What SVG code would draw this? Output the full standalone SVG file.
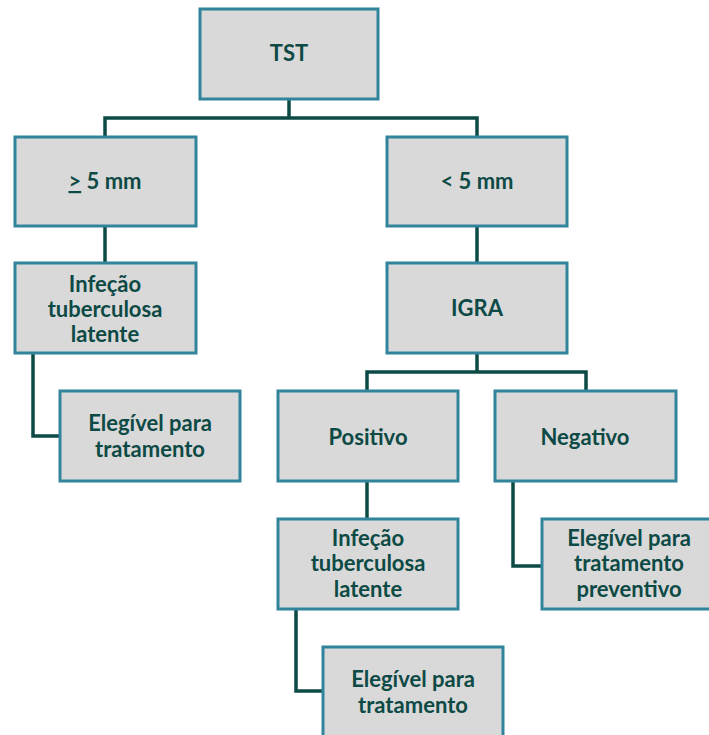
<svg xmlns="http://www.w3.org/2000/svg" width="709" height="735" viewBox="0 0 709 735">
<style>
.box{fill:#d9d9d9;stroke:#31849b;stroke-width:3}
.t{font-family:Lato,"Liberation Sans",sans-serif;font-weight:bold;font-size:22px;fill:#0d4a45;text-anchor:middle}
.c{fill:none;stroke:#0c4a45;stroke-width:3.5}
</style>
<rect width="709" height="735" fill="#ffffff"/>
<g id="connectors">
<polyline class="c" points="289,99 289,118"/>
<polyline class="c" points="105,136 105,118 477,118 477,136"/>
<polyline class="c" points="105,226 105,262"/>
<polyline class="c" points="477,226 477,262"/>
<polyline class="c" points="33,353 33,436 59,436"/>
<polyline class="c" points="477,353 477,372"/>
<polyline class="c" points="367,390 367,372 586,372 586,390"/>
<polyline class="c" points="367,481 367,518"/>
<polyline class="c" points="513,481 513,566 541,566"/>
<polyline class="c" points="296,609 296,691 322,691"/>
</g>
<g id="tst"><rect class="box" x="200" y="9" width="178" height="90"/><text class="t" x="289" y="61">TST</text></g>
<g id="ge5"><rect class="box" x="15" y="137" width="181" height="89"/><text class="t" x="105" y="189"><tspan text-decoration="underline">&gt;</tspan> 5 mm</text></g>
<g id="lt5"><rect class="box" x="387" y="137" width="180" height="89"/><text class="t" x="477" y="189">&lt; 5 mm</text></g>
<g id="itl1"><rect class="box" x="15" y="263" width="181" height="90"/><text class="t" x="105" y="292">Infeção</text><text class="t" x="105" y="317">tuberculosa</text><text class="t" x="105" y="342">latente</text></g>
<g id="igra"><rect class="box" x="387" y="263" width="180" height="90"/><text class="t" x="477" y="316">IGRA</text></g>
<g id="elig1"><rect class="box" x="60" y="391" width="180" height="90"/><text class="t" x="150" y="431">Elegível para</text><text class="t" x="150" y="457">tratamento</text></g>
<g id="pos"><rect class="box" x="278" y="391" width="180" height="90"/><text class="t" x="368" y="445">Positivo</text></g>
<g id="neg"><rect class="box" x="495" y="391" width="181" height="90"/><text class="t" x="585" y="445">Negativo</text></g>
<g id="itl2"><rect class="box" x="278" y="519" width="180" height="90"/><text class="t" x="368" y="546">Infeção</text><text class="t" x="368" y="571">tuberculosa</text><text class="t" x="368" y="597">latente</text></g>
<g id="elig-prev"><rect class="box" x="542" y="519" width="181" height="90"/><text class="t" x="629" y="546">Elegível para</text><text class="t" x="629" y="571">tratamento</text><text class="t" x="629" y="597">preventivo</text></g>
<g id="elig2"><rect class="box" x="323" y="647" width="180" height="92"/><text class="t" x="413" y="687">Elegível para</text><text class="t" x="413" y="713">tratamento</text></g>
</svg>
